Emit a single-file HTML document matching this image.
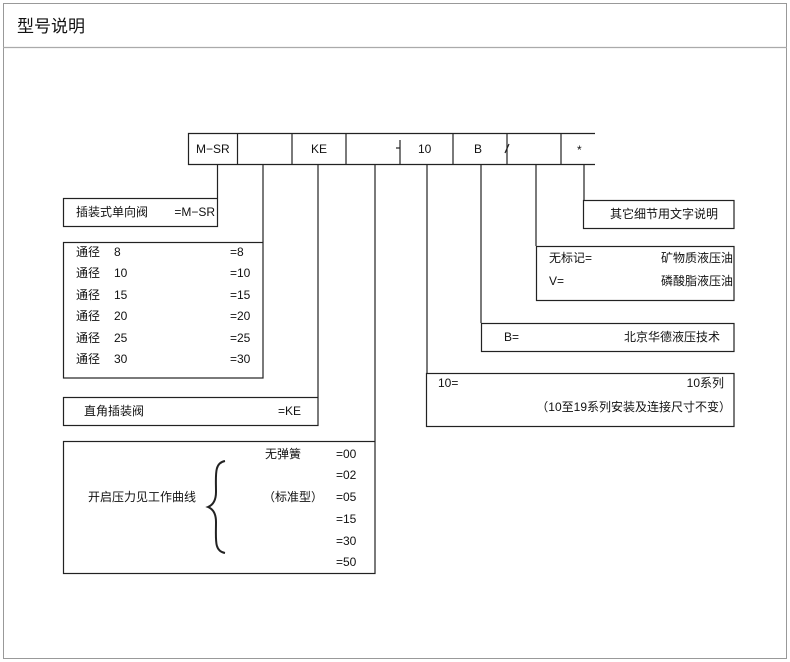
<!DOCTYPE html>
<html><head><meta charset="utf-8"><style>
body{margin:0;background:#fff;}
svg{display:block;}
text{font-family:"Liberation Sans","Noto Sans CJK SC",sans-serif;font-size:12px;fill:#111;}
.e{text-anchor:end;}
</style></head><body>
<svg width="790" height="662" viewBox="0 0 790 662">
<rect x="3.5" y="3.5" width="783" height="655" fill="none" stroke="#999" stroke-width="1"/>
<line x1="3" y1="47.5" x2="787" y2="47.5" stroke="#aaa" stroke-width="1.2"/>
<text x="17" y="32" style="font-size:17px">型号说明</text>
<g stroke="#222" stroke-width="1.2" fill="none">
<path d="M595 133.5 H188.5 V164.5 H595"/>
<line x1="237.5" y1="133" x2="237.5" y2="164"/>
<line x1="292" y1="133" x2="292" y2="164"/>
<line x1="346" y1="133" x2="346" y2="164"/>
<line x1="400" y1="140" x2="400" y2="164"/>
<line x1="396" y1="148" x2="400" y2="148"/>
<line x1="453" y1="133" x2="453" y2="164"/>
<line x1="505" y1="153" x2="509" y2="144"/>
<line x1="507" y1="133" x2="507" y2="164"/>
<line x1="561" y1="133" x2="561" y2="164"/>
<line x1="217.5" y1="164" x2="217.5" y2="198"/>
<line x1="263" y1="164" x2="263" y2="242"/>
<line x1="318" y1="164" x2="318" y2="397"/>
<line x1="375" y1="164" x2="375" y2="441"/>
<line x1="427" y1="164" x2="427" y2="373"/>
<line x1="481" y1="164" x2="481" y2="323"/>
<line x1="536" y1="164" x2="536" y2="246"/>
<line x1="584" y1="164" x2="584" y2="200"/>
<rect x="63.5" y="198.5" width="154" height="28"/>
<rect x="63.5" y="242.5" width="199.5" height="135.5"/>
<rect x="63.5" y="397.5" width="254.5" height="28"/>
<rect x="63.5" y="441.5" width="311.5" height="132"/>
<rect x="426.5" y="373.5" width="307.5" height="53"/>
<rect x="481.5" y="323.5" width="252.5" height="28"/>
<rect x="536.5" y="246.5" width="197.5" height="54"/>
<rect x="583.5" y="200.5" width="150.5" height="28"/>
<path d="M225 461 C214 463 216 475 216 492 C216 500 213 505 208 507 C213 509 216 514 216 522 C216 540 214 551 225 553" stroke-width="2"/>
</g>
<text x="196" y="153">M−SR</text>
<text x="311" y="153">KE</text>
<text x="418" y="153">10</text>
<text x="474" y="153">B</text>
<text x="577" y="154">*</text>
<text x="76" y="216">插装式单向阀</text><text class="e" x="215" y="216">=M−SR</text>
<text x="76" y="256">通径</text><text x="114" y="256">8</text><text x="230" y="256">=8</text>
<text x="76" y="277">通径</text><text x="114" y="277">10</text><text x="230" y="277">=10</text>
<text x="76" y="299">通径</text><text x="114" y="299">15</text><text x="230" y="299">=15</text>
<text x="76" y="320">通径</text><text x="114" y="320">20</text><text x="230" y="320">=20</text>
<text x="76" y="342">通径</text><text x="114" y="342">25</text><text x="230" y="342">=25</text>
<text x="76" y="363">通径</text><text x="114" y="363">30</text><text x="230" y="363">=30</text>
<text x="84" y="415">直角插装阀</text><text class="e" x="301" y="415">=KE</text>
<text x="265" y="458">无弹簧</text><text x="336" y="458">=00</text>
<text x="336" y="479">=02</text>
<text x="88" y="501">开启压力见工作曲线</text>
<text x="263" y="501">（标准型）</text><text x="336" y="501">=05</text>
<text x="336" y="523">=15</text>
<text x="336" y="545">=30</text>
<text x="336" y="566">=50</text>
<text class="e" x="718" y="218">其它细节用文字说明</text>
<text x="549" y="262">无标记=</text><text class="e" x="733" y="262">矿物质液压油</text>
<text x="549" y="285">V=</text><text class="e" x="733" y="285">磷酸脂液压油</text>
<text x="504" y="341">B=</text><text class="e" x="720" y="341">北京华德液压技术</text>
<text x="438" y="387">10=</text><text class="e" x="724" y="387">10系列</text>
<text class="e" x="731" y="411">（10至19系列安装及连接尺寸不变）</text>
</svg>
</body></html>
